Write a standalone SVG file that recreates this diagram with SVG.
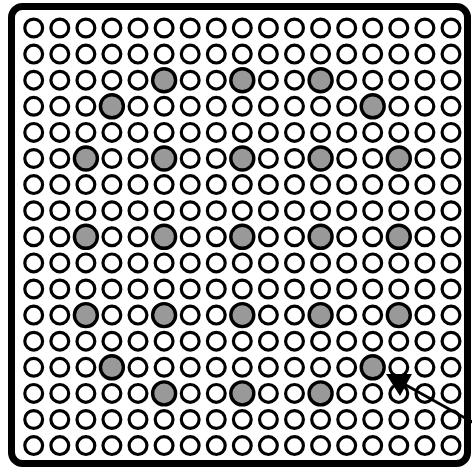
<svg xmlns="http://www.w3.org/2000/svg" width="472" height="471" viewBox="0 0 472 471">
<style>
circle{fill:#fff;stroke:#000;stroke-width:3.2}
circle.g{fill:#999;stroke:#000;stroke-width:3.4}
.frame{fill:#fff;stroke:#000;stroke-width:7}
.conn{fill:none;stroke:#000;stroke-width:3}
</style>
<defs>
<marker id="ah" markerUnits="userSpaceOnUse" viewBox="0 0 26 22" markerWidth="26" markerHeight="22" refX="18" refY="10" orient="0">
<path d="M0,0 L26,0 L14,22 Z" fill="#000"/>
</marker>
</defs>
<rect width="472" height="471" fill="#fff"/>
<g id="frame"><rect class="frame" x="11.5" y="6.5" width="456" height="457" rx="11"/></g>
<g id="grid">
<g id="row1" transform="translate(0,28)"><circle cx="33.7" r="8.9"/><circle cx="59.8" r="8.9"/><circle cx="85.9" r="8.9"/><circle cx="111.9" r="8.9"/><circle cx="138" r="8.9"/><circle cx="164.1" r="8.9"/><circle cx="190.2" r="8.9"/><circle cx="216.3" r="8.9"/><circle cx="242.3" r="8.9"/><circle cx="268.4" r="8.9"/><circle cx="294.5" r="8.9"/><circle cx="320.6" r="8.9"/><circle cx="346.7" r="8.9"/><circle cx="372.7" r="8.9"/><circle cx="398.8" r="8.9"/><circle cx="424.9" r="8.9"/><circle cx="451" r="8.9"/></g>
<g id="row2" transform="translate(0,54.1)"><circle cx="33.7" r="8.9"/><circle cx="59.8" r="8.9"/><circle cx="85.9" r="8.9"/><circle cx="111.9" r="8.9"/><circle cx="138" r="8.9"/><circle cx="164.1" r="8.9"/><circle cx="190.2" r="8.9"/><circle cx="216.3" r="8.9"/><circle cx="242.3" r="8.9"/><circle cx="268.4" r="8.9"/><circle cx="294.5" r="8.9"/><circle cx="320.6" r="8.9"/><circle cx="346.7" r="8.9"/><circle cx="372.7" r="8.9"/><circle cx="398.8" r="8.9"/><circle cx="424.9" r="8.9"/><circle cx="451" r="8.9"/></g>
<g id="row3" transform="translate(0,80.2)"><circle cx="33.7" r="8.9"/><circle cx="59.8" r="8.9"/><circle cx="85.9" r="8.9"/><circle cx="111.9" r="8.9"/><circle cx="138" r="8.9"/><circle class="g" cx="164.1" r="11.5"/><circle cx="190.2" r="8.9"/><circle cx="216.3" r="8.9"/><circle class="g" cx="242.3" r="11.5"/><circle cx="268.4" r="8.9"/><circle cx="294.5" r="8.9"/><circle class="g" cx="320.6" r="11.5"/><circle cx="346.7" r="8.9"/><circle cx="372.7" r="8.9"/><circle cx="398.8" r="8.9"/><circle cx="424.9" r="8.9"/><circle cx="451" r="8.9"/></g>
<g id="row4" transform="translate(0,106.3)"><circle cx="33.7" r="8.9"/><circle cx="59.8" r="8.9"/><circle cx="85.9" r="8.9"/><circle class="g" cx="111.9" r="11.5"/><circle cx="138" r="8.9"/><circle cx="164.1" r="8.9"/><circle cx="190.2" r="8.9"/><circle cx="216.3" r="8.9"/><circle cx="242.3" r="8.9"/><circle cx="268.4" r="8.9"/><circle cx="294.5" r="8.9"/><circle cx="320.6" r="8.9"/><circle cx="346.7" r="8.9"/><circle class="g" cx="372.7" r="11.5"/><circle cx="398.8" r="8.9"/><circle cx="424.9" r="8.9"/><circle cx="451" r="8.9"/></g>
<g id="row5" transform="translate(0,132.4)"><circle cx="33.7" r="8.9"/><circle cx="59.8" r="8.9"/><circle cx="85.9" r="8.9"/><circle cx="111.9" r="8.9"/><circle cx="138" r="8.9"/><circle cx="164.1" r="8.9"/><circle cx="190.2" r="8.9"/><circle cx="216.3" r="8.9"/><circle cx="242.3" r="8.9"/><circle cx="268.4" r="8.9"/><circle cx="294.5" r="8.9"/><circle cx="320.6" r="8.9"/><circle cx="346.7" r="8.9"/><circle cx="372.7" r="8.9"/><circle cx="398.8" r="8.9"/><circle cx="424.9" r="8.9"/><circle cx="451" r="8.9"/></g>
<g id="row6" transform="translate(0,158.5)"><circle cx="33.7" r="8.9"/><circle cx="59.8" r="8.9"/><circle class="g" cx="85.9" r="11.5"/><circle cx="111.9" r="8.9"/><circle cx="138" r="8.9"/><circle class="g" cx="164.1" r="11.5"/><circle cx="190.2" r="8.9"/><circle cx="216.3" r="8.9"/><circle class="g" cx="242.3" r="11.5"/><circle cx="268.4" r="8.9"/><circle cx="294.5" r="8.9"/><circle class="g" cx="320.6" r="11.5"/><circle cx="346.7" r="8.9"/><circle cx="372.7" r="8.9"/><circle class="g" cx="398.8" r="11.5"/><circle cx="424.9" r="8.9"/><circle cx="451" r="8.9"/></g>
<g id="row7" transform="translate(0,184.6)"><circle cx="33.7" r="8.9"/><circle cx="59.8" r="8.9"/><circle cx="85.9" r="8.9"/><circle cx="111.9" r="8.9"/><circle cx="138" r="8.9"/><circle cx="164.1" r="8.9"/><circle cx="190.2" r="8.9"/><circle cx="216.3" r="8.9"/><circle cx="242.3" r="8.9"/><circle cx="268.4" r="8.9"/><circle cx="294.5" r="8.9"/><circle cx="320.6" r="8.9"/><circle cx="346.7" r="8.9"/><circle cx="372.7" r="8.9"/><circle cx="398.8" r="8.9"/><circle cx="424.9" r="8.9"/><circle cx="451" r="8.9"/></g>
<g id="row8" transform="translate(0,210.7)"><circle cx="33.7" r="8.9"/><circle cx="59.8" r="8.9"/><circle cx="85.9" r="8.9"/><circle cx="111.9" r="8.9"/><circle cx="138" r="8.9"/><circle cx="164.1" r="8.9"/><circle cx="190.2" r="8.9"/><circle cx="216.3" r="8.9"/><circle cx="242.3" r="8.9"/><circle cx="268.4" r="8.9"/><circle cx="294.5" r="8.9"/><circle cx="320.6" r="8.9"/><circle cx="346.7" r="8.9"/><circle cx="372.7" r="8.9"/><circle cx="398.8" r="8.9"/><circle cx="424.9" r="8.9"/><circle cx="451" r="8.9"/></g>
<g id="row9" transform="translate(0,236.8)"><circle cx="33.7" r="8.9"/><circle cx="59.8" r="8.9"/><circle class="g" cx="85.9" r="11.5"/><circle cx="111.9" r="8.9"/><circle cx="138" r="8.9"/><circle class="g" cx="164.1" r="11.5"/><circle cx="190.2" r="8.9"/><circle cx="216.3" r="8.9"/><circle class="g" cx="242.3" r="11.5"/><circle cx="268.4" r="8.9"/><circle cx="294.5" r="8.9"/><circle class="g" cx="320.6" r="11.5"/><circle cx="346.7" r="8.9"/><circle cx="372.7" r="8.9"/><circle class="g" cx="398.8" r="11.5"/><circle cx="424.9" r="8.9"/><circle cx="451" r="8.9"/></g>
<g id="row10" transform="translate(0,262.9)"><circle cx="33.7" r="8.9"/><circle cx="59.8" r="8.9"/><circle cx="85.9" r="8.9"/><circle cx="111.9" r="8.9"/><circle cx="138" r="8.9"/><circle cx="164.1" r="8.9"/><circle cx="190.2" r="8.9"/><circle cx="216.3" r="8.9"/><circle cx="242.3" r="8.9"/><circle cx="268.4" r="8.9"/><circle cx="294.5" r="8.9"/><circle cx="320.6" r="8.9"/><circle cx="346.7" r="8.9"/><circle cx="372.7" r="8.9"/><circle cx="398.8" r="8.9"/><circle cx="424.9" r="8.9"/><circle cx="451" r="8.9"/></g>
<g id="row11" transform="translate(0,289)"><circle cx="33.7" r="8.9"/><circle cx="59.8" r="8.9"/><circle cx="85.9" r="8.9"/><circle cx="111.9" r="8.9"/><circle cx="138" r="8.9"/><circle cx="164.1" r="8.9"/><circle cx="190.2" r="8.9"/><circle cx="216.3" r="8.9"/><circle cx="242.3" r="8.9"/><circle cx="268.4" r="8.9"/><circle cx="294.5" r="8.9"/><circle cx="320.6" r="8.9"/><circle cx="346.7" r="8.9"/><circle cx="372.7" r="8.9"/><circle cx="398.8" r="8.9"/><circle cx="424.9" r="8.9"/><circle cx="451" r="8.9"/></g>
<g id="row12" transform="translate(0,315.1)"><circle cx="33.7" r="8.9"/><circle cx="59.8" r="8.9"/><circle class="g" cx="85.9" r="11.5"/><circle cx="111.9" r="8.9"/><circle cx="138" r="8.9"/><circle class="g" cx="164.1" r="11.5"/><circle cx="190.2" r="8.9"/><circle cx="216.3" r="8.9"/><circle class="g" cx="242.3" r="11.5"/><circle cx="268.4" r="8.9"/><circle cx="294.5" r="8.9"/><circle class="g" cx="320.6" r="11.5"/><circle cx="346.7" r="8.9"/><circle cx="372.7" r="8.9"/><circle class="g" cx="398.8" r="11.5"/><circle cx="424.9" r="8.9"/><circle cx="451" r="8.9"/></g>
<g id="row13" transform="translate(0,341.2)"><circle cx="33.7" r="8.9"/><circle cx="59.8" r="8.9"/><circle cx="85.9" r="8.9"/><circle cx="111.9" r="8.9"/><circle cx="138" r="8.9"/><circle cx="164.1" r="8.9"/><circle cx="190.2" r="8.9"/><circle cx="216.3" r="8.9"/><circle cx="242.3" r="8.9"/><circle cx="268.4" r="8.9"/><circle cx="294.5" r="8.9"/><circle cx="320.6" r="8.9"/><circle cx="346.7" r="8.9"/><circle cx="372.7" r="8.9"/><circle cx="398.8" r="8.9"/><circle cx="424.9" r="8.9"/><circle cx="451" r="8.9"/></g>
<g id="row14" transform="translate(0,367.3)"><circle cx="33.7" r="8.9"/><circle cx="59.8" r="8.9"/><circle cx="85.9" r="8.9"/><circle class="g" cx="111.9" r="11.5"/><circle cx="138" r="8.9"/><circle cx="164.1" r="8.9"/><circle cx="190.2" r="8.9"/><circle cx="216.3" r="8.9"/><circle cx="242.3" r="8.9"/><circle cx="268.4" r="8.9"/><circle cx="294.5" r="8.9"/><circle cx="320.6" r="8.9"/><circle cx="346.7" r="8.9"/><circle class="g" cx="372.7" r="11.5"/><circle cx="398.8" r="8.9"/><circle cx="424.9" r="8.9"/><circle cx="451" r="8.9"/></g>
<g id="row15" transform="translate(0,393.4)"><circle cx="33.7" r="8.9"/><circle cx="59.8" r="8.9"/><circle cx="85.9" r="8.9"/><circle cx="111.9" r="8.9"/><circle cx="138" r="8.9"/><circle class="g" cx="164.1" r="11.5"/><circle cx="190.2" r="8.9"/><circle cx="216.3" r="8.9"/><circle class="g" cx="242.3" r="11.5"/><circle cx="268.4" r="8.9"/><circle cx="294.5" r="8.9"/><circle class="g" cx="320.6" r="11.5"/><circle cx="346.7" r="8.9"/><circle cx="372.7" r="8.9"/><circle cx="398.8" r="8.9"/><circle cx="424.9" r="8.9"/><circle cx="451" r="8.9"/></g>
<g id="row16" transform="translate(0,419.5)"><circle cx="33.7" r="8.9"/><circle cx="59.8" r="8.9"/><circle cx="85.9" r="8.9"/><circle cx="111.9" r="8.9"/><circle cx="138" r="8.9"/><circle cx="164.1" r="8.9"/><circle cx="190.2" r="8.9"/><circle cx="216.3" r="8.9"/><circle cx="242.3" r="8.9"/><circle cx="268.4" r="8.9"/><circle cx="294.5" r="8.9"/><circle cx="320.6" r="8.9"/><circle cx="346.7" r="8.9"/><circle cx="372.7" r="8.9"/><circle cx="398.8" r="8.9"/><circle cx="424.9" r="8.9"/><circle cx="451" r="8.9"/></g>
<g id="row17" transform="translate(0,445.6)"><circle cx="33.7" r="8.9"/><circle cx="59.8" r="8.9"/><circle cx="85.9" r="8.9"/><circle cx="111.9" r="8.9"/><circle cx="138" r="8.9"/><circle cx="164.1" r="8.9"/><circle cx="190.2" r="8.9"/><circle cx="216.3" r="8.9"/><circle cx="242.3" r="8.9"/><circle cx="268.4" r="8.9"/><circle cx="294.5" r="8.9"/><circle cx="320.6" r="8.9"/><circle cx="346.7" r="8.9"/><circle cx="372.7" r="8.9"/><circle cx="398.8" r="8.9"/><circle cx="424.9" r="8.9"/><circle cx="451" r="8.9"/></g>
</g>
<g id="connectors">
<path class="conn" d="M474,423 L404,384" marker-end="url(#ah)"/>
</g>
</svg>
